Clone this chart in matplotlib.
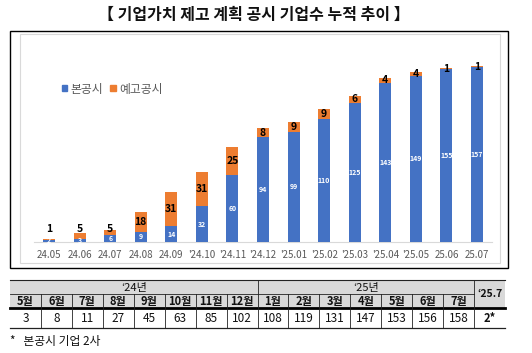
import matplotlib
matplotlib.use("Agg")
import matplotlib.pyplot as plt
from matplotlib.patches import Rectangle, Patch
import numpy as np

plt.rcParams['font.family'] = ['Noto Sans CJK KR', 'DejaVu Sans']

# ---------------- data ----------------
title = "【 기업가치 제고 계획 공시 기업수 누적 추이 】"
periods = ["24.05", "24.06", "24.07", "24.08", "24.09", "'24.10", "'24.11", "'24.12",
           "'25.01", "'25.02", "'25.03", "'25.04", "'25.05", "25.06", "25.07"]
main_disc = [2, 3, 6, 9, 14, 32, 60, 94, 99, 110, 125, 143, 149, 155, 157]   # 본공시
pre_disc = [1, 5, 5, 18, 31, 31, 25, 8, 9, 9, 6, 4, 4, 1, 1]                 # 예고공시
series_names = ["본공시", "예고공시"]

table_years = ["‘24년", "‘25년"]
table_year_spans = [8, 7]
table_months = ["5월", "6월", "7월", "8월", "9월", "10월", "11월", "12월",
                "1월", "2월", "3월", "4월", "5월", "6월", "7월"]
table_totals = ["3", "8", "11", "27", "45", "63", "85", "102",
                "108", "119", "131", "147", "153", "156", "158"]
extra_header = "‘25.7"
extra_value = "2*"
footnote = "*   본공시 기업 2사"

BLUE = "#4472C4"
ORANGE = "#ED7D31"

W, H = 532, 353
fig = plt.figure(figsize=(W / 100, H / 100), dpi=100)

# overlay axes in pixel coordinates
ov = fig.add_axes([0, 0, 1, 1], zorder=0)
ov.set_xlim(0, W)
ov.set_ylim(H, 0)
ov.axis("off")

# title
ov.text(254, 15, title, ha="center", va="center", fontsize=11.5, fontweight="bold", color="#111111")

# chart frames
ov.add_patch(Rectangle((10, 31), 498, 237, fill=False, edgecolor="black", linewidth=1.0))
ov.add_patch(Rectangle((20, 34), 480, 229, facecolor="white", edgecolor="#d9d9d9", linewidth=0.8))

# ---------------- bar chart ----------------
left_px, right_px = 33.7, 492.3
base_px, top_px = 242, 47
ax = fig.add_axes([left_px / W, 1 - base_px / H, (right_px - left_px) / W, (base_px - top_px) / H], zorder=2)
ax.patch.set_alpha(0)
x = np.arange(len(periods))
bw = 0.39
ax.bar(x, main_disc, width=bw, color=BLUE, label=series_names[0], zorder=3)
ax.bar(x, pre_disc, width=bw, bottom=main_disc, color=ORANGE, label=series_names[1], zorder=3)
ax.set_xlim(-0.5, len(periods) - 0.5)
ax.set_ylim(0, 175)
for s in ["top", "right", "left"]:
    ax.spines[s].set_visible(False)
ax.spines["bottom"].set_color("#d9d9d9")
ax.spines["bottom"].set_linewidth(0.8)
ax.set_yticks([])
ax.set_xticks(x)
ax.set_xticklabels(periods, fontsize=7, color="#595959")
ax.tick_params(axis="x", length=0, pad=6)

for xi, b, o in zip(x, main_disc, pre_disc):
    ax.text(xi, b / 2, str(b), ha="center", va="center", fontsize=5, color="white",
            fontweight="bold", zorder=4)
    yo = max(b + o / 2, 12)
    ax.text(xi, yo, str(o), ha="center", va="center", fontsize=7.5, color="black",
            fontweight="bold", zorder=4)

handles = [Patch(color=BLUE), Patch(color=ORANGE)]
fig.legend(handles, series_names, loc="center left", bbox_to_anchor=(56 / W, 1 - 89 / H),
           bbox_transform=fig.transFigure, ncol=2, frameon=False, fontsize=8.5,
           handlelength=0.45, handleheight=0.45, handletextpad=0.3, columnspacing=0.6,
           borderpad=0, labelcolor="#595959")

# ---------------- table ----------------
tx0, tx1 = 10, 505
ncols = len(table_months) + 1
cw = (tx1 - tx0) / ncols
r0, r1, r2, r3 = 280, 294, 308, 328
ov.add_patch(Rectangle((tx0, r0), tx1 - tx0, r2 - r0, facecolor="#d9d9d9", edgecolor="none"))
lc = "#222222"
ov.plot([tx0, tx1], [r0, r0], color=lc, lw=0.8)
ov.plot([tx0, tx0 + cw * len(table_months)], [r1, r1], color=lc, lw=0.6)
ov.plot([tx0, tx1], [r2, r2], color="black", lw=2.0)
ov.plot([tx0, tx1], [r3, r3], color=lc, lw=0.9)
# vertical lines
for i in range(1, ncols):
    xv = tx0 + i * cw
    ov.plot([xv, xv], [r1, r3], color=lc, lw=0.6)
# year group separators through top row
acc = 0
for i, (yr, sp) in enumerate(zip(table_years, table_year_spans)):
    xs = tx0 + acc * cw
    xe = tx0 + (acc + sp) * cw
    ov.text((xs + xe) / 2, (r0 + r1) / 2 + 0.5, yr, ha="center", va="center", fontsize=8,
            color="#111111")
    ov.plot([xe, xe], [r0, r1], color=lc, lw=0.6)
    acc += sp
for i, (m, v) in enumerate(zip(table_months, table_totals)):
    xc = tx0 + (i + 0.5) * cw
    ov.text(xc, (r1 + r2) / 2 + 0.5, m, ha="center", va="center", fontsize=8,
            fontweight="bold", color="#111111")
    ov.text(xc, (r2 + r3) / 2 + 0.5, v, ha="center", va="center", fontsize=8.5, color="#111111")
xc = tx0 + (ncols - 0.5) * cw
ov.text(xc, (r0 + r2) / 2, extra_header, ha="center", va="center", fontsize=7.5,
        fontweight="bold", color="#111111")
ov.text(xc, (r2 + r3) / 2 + 0.5, extra_value, ha="center", va="center", fontsize=8,
        fontweight="bold", color="#111111")

ov.text(10, 342, footnote, ha="left", va="center", fontsize=8.5, color="#111111")

fig.savefig("out.png", dpi=100)
